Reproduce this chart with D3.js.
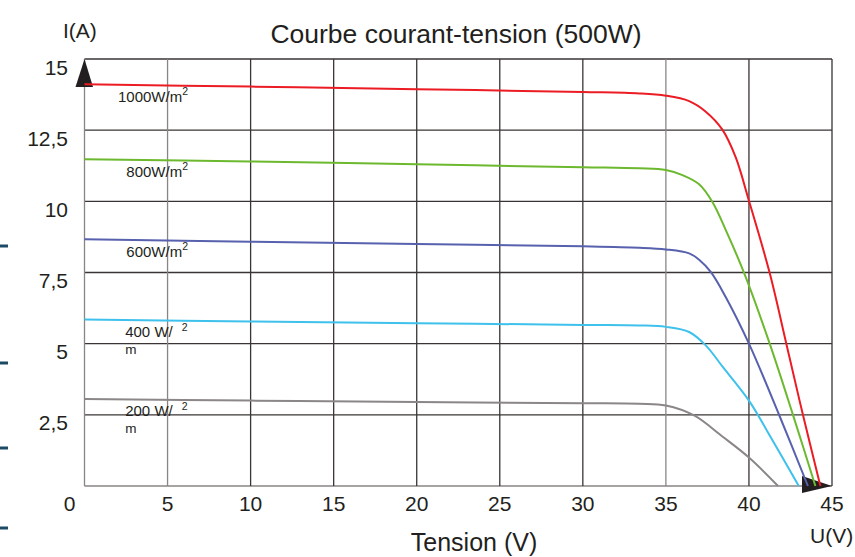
<!DOCTYPE html>
<html>
<head>
<meta charset="utf-8">
<script src="https://cdn.jsdelivr.net/npm/d3@7"></script>
<style>
  body { margin: 0; background: #fff; }
  svg text { font-family: "Liberation Sans", Arial, sans-serif; fill: #231f20; }
</style>
</head>
<body>
<svg width="855" height="557"></svg>
<script>
// tick values
let x_ticks = [0, 5, 10, 15, 20, 25, 30, 35, 40, 45]
let y_ticks = [0, 2.5, 5, 7.5, 10, 12.5, 15]
let y_tick_labels = ["", "2,5", "5", "7,5", "10", "12,5", "15"]

// irradiance curves, [U (V), I (A)]
let curve_names = ["200", "400", "600", "800", "1000"]
let curve_colors = ["#8b8687", "#3ec1ec", "#5761ae", "#6cb92f", "#ec1c24"]
let curve_200 = [[0,3.06],[10,3.0],[20,2.95],[30,2.91],[33.4,2.89],[35,2.83],[36.7,2.48],[38.4,1.74],[40,1.0],[41.75,0]]
let curve_400 = [[0,5.85],[10,5.78],[20,5.72],[30,5.66],[33.4,5.64],[35,5.59],[36.4,5.41],[37.4,4.94],[38.4,4.2],[40,3.0],[41.05,1.98],[43.0,0]]
let curve_600 = [[0,8.67],[10,8.58],[20,8.5],[30,8.42],[33.4,8.37],[35,8.31],[36.4,8.17],[37,7.95],[37.7,7.52],[38.6,6.64],[40,5.0],[41.85,2.45],[43.55,0]]
let curve_800 = [[0,11.48],[10,11.4],[20,11.3],[30,11.2],[33.4,11.16],[35,11.1],[36,10.92],[37,10.6],[37.8,9.98],[38.6,9.0],[39.8,7.35],[41.25,5.0],[42.65,2.5],[44.0,0]]
let curve_1000 = [[0,14.11],[10,14.03],[20,13.94],[30,13.84],[33.4,13.79],[35,13.71],[36.4,13.52],[37.4,13.15],[38.4,12.52],[39.2,11.55],[40,10.02],[41.25,7.48],[42.25,5.0],[43.25,2.5],[44.3,0]]
let curves = [curve_200, curve_400, curve_600, curve_800, curve_1000]

let svg = d3.select("svg")
let x = d3.scaleLinear().domain([0, 45]).range([84.5, 832])
let y = d3.scaleLinear().domain([0, 15]).range([486, 59])

// odd little marks on the left edge of the slide
svg.selectAll(".mark").data([246, 363, 448, 528]).enter().append("rect")
  .attr("x", 0).attr("y", d => d - 1.5).attr("width", 8).attr("height", 3)
  .attr("fill", "#1c4a66")

// title
svg.append("text").attr("x", 456).attr("y", 43).attr("text-anchor", "middle")
  .style("font-size", "26.5px").text("Courbe courant-tension (500W)")

// grid
svg.append("g").selectAll("line").data(y_ticks).enter().append("line")
  .attr("x1", x(0)).attr("x2", x(45)).attr("y1", d => y(d)).attr("y2", d => y(d))
  .attr("stroke", d => d === 0 ? "#8a8585" : "#3a3435").attr("stroke-width", 1.3)
svg.append("g").selectAll("line").data(x_ticks).enter().append("line")
  .attr("x1", d => x(d)).attr("x2", d => x(d)).attr("y1", y(0)).attr("y2", y(15))
  .attr("stroke", d => (d === 0 || d === 5 || d === 35) ? "#8a8585" : "#3a3435").attr("stroke-width", 1.3)

// tick labels
svg.append("g").selectAll("text").data(y_ticks).enter().append("text")
  .attr("x", 68).attr("y", d => y(d) + 15.5).attr("text-anchor", "end")
  .style("font-size", "21px").text((d, i) => y_tick_labels[i])
svg.append("g").selectAll("text").data(x_ticks).enter().append("text")
  .attr("x", d => d === 0 ? x(0) - 15 : x(d)).attr("y", 511).attr("text-anchor", "middle")
  .style("font-size", "21px").text(d => d)

// axis titles
svg.append("text").attr("x", 63).attr("y", 37.5).style("font-size", "21px").text("I(A)")
svg.append("text").attr("x", 810).attr("y", 543).style("font-size", "21px").text("U(V)")
svg.append("text").attr("x", 474).attr("y", 551).attr("text-anchor", "middle")
  .style("font-size", "25px").text("Tension (V)")

// axis arrows
svg.append("path")
  .attr("d", `M${x(0)},${y(15)} L${x(0) + 8.5},${y(15) + 28} L${x(0) - 9},${y(15) + 28} Z`)
  .attr("fill", "#231f20")
svg.append("path")
  .attr("d", `M${x(45)},${y(0)} L${x(45) - 30},${y(0) - 10} L${x(45) - 30},${y(0) + 7} Z`)
  .attr("fill", "#231f20")

// curves
let line = d3.line().x(d => x(d[0])).y(d => y(d[1])).curve(d3.curveCatmullRom.alpha(0.5))
svg.append("g").selectAll("path").data(curves).enter().append("path")
  .attr("d", d => line(d))
  .attr("fill", "none")
  .attr("stroke", (d, i) => curve_colors[i])
  .attr("stroke-width", 2)

// curve labels
curves.forEach(function(c, i) {
  let name = curve_names[i]
  let ly = y(c[0][1]) + 17.5
  if (+name >= 600) {
    let t = svg.append("text").attr("x", 188).attr("y", ly).attr("text-anchor", "end")
      .style("font-size", "15px")
    t.append("tspan").text(name + "W/m")
    t.append("tspan").attr("dy", -7).style("font-size", "10.5px").text("2")
  } else {
    svg.append("text").attr("x", x(2.45)).attr("y", ly).style("font-size", "15px").text(name + " W/")
    svg.append("text").attr("x", x(5.85)).attr("y", ly - 6).style("font-size", "10.5px").text("2")
    svg.append("text").attr("x", x(2.45)).attr("y", ly + 17).style("font-size", "13.5px").text("m")
  }
})
</script>
</body>
</html>
